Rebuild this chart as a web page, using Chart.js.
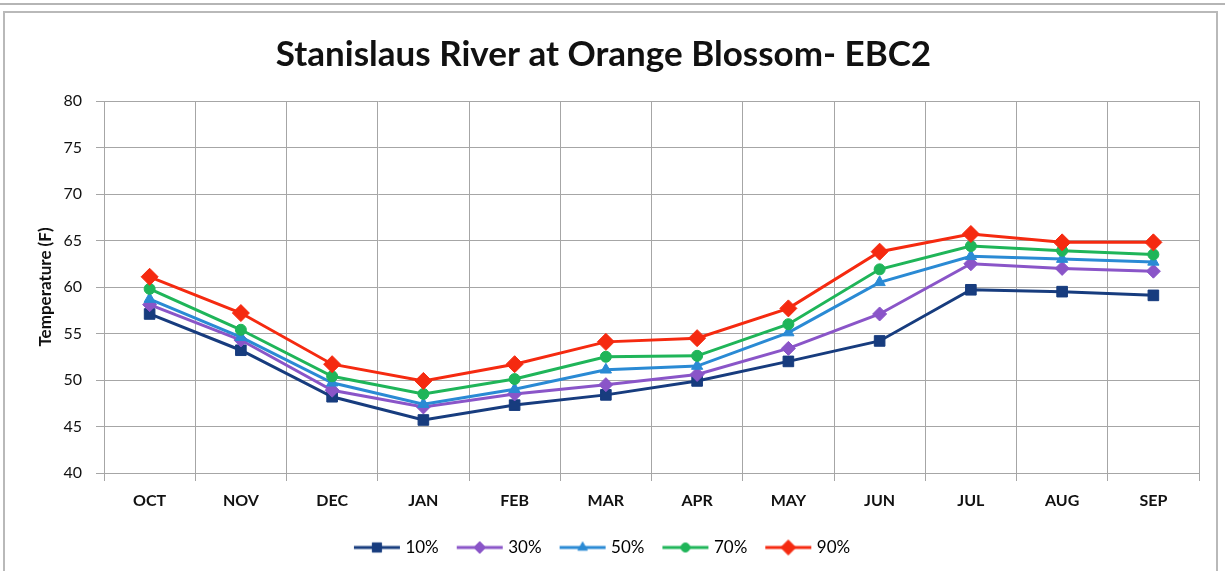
<!DOCTYPE html>
<html>
<head>
<meta charset="utf-8">
<script src="https://cdn.jsdelivr.net/npm/chart.js@4.4.1/dist/chart.umd.min.js"></script>
<style>
  html, body { margin: 0; padding: 0; background: #fff; }
  body { width: 1225px; height: 571px; position: relative; overflow: hidden; }
  #topRule { position: absolute; left: 0; top: 3px; width: 1225px; height: 0; border-top: 2px solid #b5b5b5; }
  #frame { position: absolute; left: 3px; top: 11px; width: 1215px; height: 580px; border: 2px solid #b9b9b9; box-sizing: border-box; }
  #wrap { position: absolute; left: 0; top: 0; width: 1225px; height: 571px; }
</style>
</head>
<body>
<div id="topRule"></div>
<div id="frame"></div>
<div id="wrap"><canvas id="chart" width="1225" height="571"></canvas></div>
<script>
// Monthly water temperature exceedance series, Stanislaus River at Orange Blossom
const months = ['OCT', 'NOV', 'DEC', 'JAN', 'FEB', 'MAR', 'APR', 'MAY', 'JUN', 'JUL', 'AUG', 'SEP'];
const p10 = [57.1, 53.2, 48.2, 45.7, 47.3, 48.4, 49.9, 52.0, 54.2, 59.7, 59.5, 59.1];
const p30 = [58.1, 54.3, 48.9, 47.1, 48.5, 49.5, 50.6, 53.4, 57.1, 62.5, 62.0, 61.7];
const p50 = [58.7, 54.6, 49.7, 47.4, 49.0, 51.1, 51.5, 55.1, 60.5, 63.3, 63.0, 62.7];
const p70 = [59.8, 55.4, 50.4, 48.5, 50.1, 52.5, 52.6, 56.0, 61.9, 64.4, 63.9, 63.5];
const p90 = [61.1, 57.2, 51.7, 49.9, 51.7, 54.1, 54.5, 57.7, 63.8, 65.7, 64.8, 64.8];
const seriesLabels = ['10%', '30%', '50%', '70%', '90%'];
const yTicks = [40, 45, 50, 55, 60, 65, 70, 75, 80];

const styles = [
  { color: '#173C7E', point: 'rect', radius: 7.5 },
  { color: '#8A55C8', point: 'rectRot', radius: 7 },
  { color: '#2A8AD4', point: 'triangle', radius: 6.5 },
  { color: '#1FB559', point: 'circle', radius: 5.5 },
  { color: '#F52A10', point: 'rectRot', radius: 8.5 }
];

const values = [p10, p30, p50, p70, p90];
const datasets = values.map((v, i) => ({
  label: seriesLabels[i],
  data: v,
  borderColor: styles[i].color,
  backgroundColor: styles[i].color,
  pointBackgroundColor: styles[i].color,
  pointBorderColor: styles[i].color,
  pointStyle: styles[i].point,
  pointRadius: styles[i].radius,
  pointBorderWidth: 1,
  borderWidth: 3,
  tension: 0,
  order: 5 - i
}));

// Legend swatch: short line with the series marker in the middle
function swatch(st) {
  const c = document.createElement('canvas');
  c.width = 50; c.height = 18;
  const ctx = c.getContext('2d');
  ctx.strokeStyle = st.color;
  ctx.lineWidth = 3;
  ctx.beginPath(); ctx.moveTo(2, 9); ctx.lineTo(48, 9); ctx.stroke();
  ctx.fillStyle = st.color;
  ctx.lineWidth = 1;
  Chart.helpers.drawPoint(ctx, { pointStyle: st.point, radius: st.radius - 1, borderWidth: 1 }, 25, 9);
  return c;
}
const swatches = styles.map(swatch);

const FONT = "Lato, 'Liberation Sans', sans-serif";

new Chart(document.getElementById('chart'), {
  type: 'line',
  data: { labels: months, datasets: datasets },
  options: {
    responsive: false,
    animation: false,
    layout: { padding: { left: 8, right: 26, top: 12, bottom: 5 } },
    plugins: {
      title: {
        display: true,
        text: 'Stanislaus River at Orange Blossom- EBC2',
        color: '#111',
        font: { family: FONT, size: 35, weight: 'bold' },
        padding: { top: 22, bottom: 25 }
      },
      legend: {
        display: true,
        position: 'bottom',
        labels: {
          usePointStyle: true,
          pointStyleWidth: 40,
          padding: 21,
          color: '#111',
          font: { family: FONT, size: 17 },
          generateLabels: (chart) => chart.data.datasets.map((ds, i) => ({
            text: ds.label,
            pointStyle: swatches[i],
            fillStyle: ds.borderColor,
            strokeStyle: ds.borderColor,
            lineWidth: 0,
            hidden: false,
            datasetIndex: i
          }))
        }
      },
      tooltip: { enabled: false }
    },
    scales: {
      x: {
        offset: true,
        grid: { offset: true, color: '#a6a6a6', lineWidth: 1, tickLength: 8, drawTicks: true },
        border: { color: '#a6a6a6', width: 1 },
        ticks: { color: '#111', padding: 10, font: { family: FONT, size: 16, weight: 'bold' } },
        afterFit: (s) => { s.height = 45; }
      },
      y: {
        min: 40,
        max: 80,
        afterBuildTicks: (s) => { s.ticks = yTicks.map(v => ({ value: v })); },
        grid: { color: '#a6a6a6', lineWidth: 1, tickLength: 8 },
        border: { color: '#a6a6a6', width: 1 },
        ticks: { color: '#111', padding: 14, font: { family: FONT, size: 16 } },
        title: {
          display: true,
          text: 'Temperature (F)',
          color: '#111',
          font: { family: FONT, size: 17, weight: 'bold' },
          padding: { top: 27, bottom: 0 }
        },
        afterFit: (s) => { s.width = 96; }
      }
    }
  }
});
</script>
</body>
</html>
